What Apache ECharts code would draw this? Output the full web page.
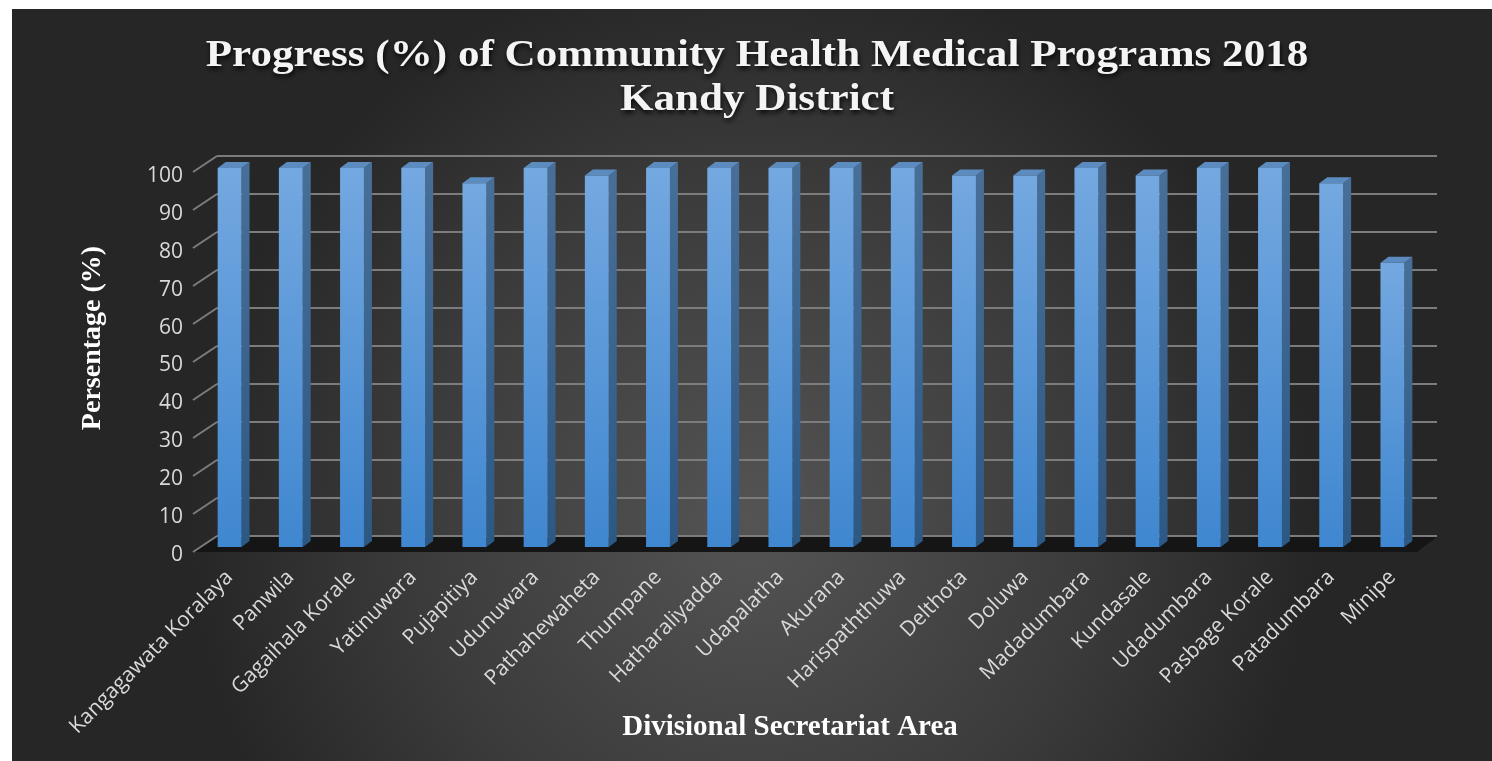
<!DOCTYPE html>
<html><head><meta charset="utf-8">
<script src="https://cdn.jsdelivr.net/npm/echarts@6/dist/echarts.min.js"></script>
<style>html,body{margin:0;padding:0;background:#fff;width:1492px;height:761px;overflow:hidden}#c{position:absolute;left:12px;top:9px;width:1480px;height:752px;}</style>
</head><body><div id="c"></div>
<script>
const categories = ['Kangagawata Koralaya','Panwila','Gagaihala Korale','Yatinuwara','Pujapitiya','Udunuwara','Pathahewaheta','Thumpane','Hatharaliyadda','Udapalatha','Akurana','Harispaththuwa','Delthota','Doluwa','Madadumbara','Kundasale','Udadumbara','Pasbage Korale','Patadumbara','Minipe'];
const values = [100,100,100,100,96,100,98,100,100,100,100,100,98,98,100,98,100,100,96,75];
const yTicks = [0,10,20,30,40,50,60,70,80,90,100];
const titleLines = ['Progress (%) of Community Health Medical Programs 2018','Kandy District'];
const yName = 'Persentage (%)';
const xName = 'Divisional Secretariat Area';

const chart = echarts.init(document.getElementById('c'));
const serif = '"Liberation Serif","Times New Roman",serif';
const sans = '"Open Sans","Noto Sans",sans-serif';
const gridColor = '#7c7c7c';

const option = {
  animation: false,
  backgroundColor: {
    type: 'radial', x: 0.5, y: 0.68, r: 0.75,
    colorStops: [{offset: 0, color: '#545454'}, {offset: 0.6, color: '#3b3b3b'}, {offset: 1, color: '#262626'}]
  },
  grid: [
    {left: 205, top: 147, width: 1220, height: 380},
    {left: 187, top: 159, width: 1224, height: 379},
    {left: 181, top: 167, width: 1222, height: 379}
  ],
  xAxis: [
    {gridIndex: 0, type: 'category', data: categories, show: false},
    {gridIndex: 1, type: 'category', data: categories,
     axisLine: {show: false}, axisTick: {show: false},
     axisLabel: {rotate: 45, interval: 0, fontSize: 21, color: '#d9d9d9', fontFamily: sans, margin: 27}},
    {gridIndex: 2, type: 'category', data: categories, show: false}
  ],
  yAxis: [
    {gridIndex: 0, type: 'value', min: 0, max: 100, interval: 10,
     axisLine: {show: false}, axisTick: {show: false}, axisLabel: {show: false},
     splitLine: {lineStyle: {color: gridColor, width: 2}}},
    {gridIndex: 1, type: 'value', min: 0, max: 100, interval: 10, show: false, splitLine: {show: false}},
    {gridIndex: 2, type: 'value', min: 0, max: 100, interval: 10,
     axisLine: {show: false}, axisTick: {show: false}, splitLine: {show: false},
     axisLabel: {fontSize: 21, color: '#d9d9d9', fontFamily: sans, margin: 10}}
  ],
  graphic: [
    {type: 'text', x: 745, y: 47, scaleX: 1.165, z: 10, style: {text: titleLines[0], align: 'center', verticalAlign: 'middle',
      font: 'bold 37px ' + serif, fill: '#f4f4f4', textShadowColor: 'rgba(0,0,0,0.85)', textShadowBlur: 5, textShadowOffsetX: 1, textShadowOffsetY: 3}},
    {type: 'text', x: 745, y: 91, scaleX: 1.165, z: 10, style: {text: titleLines[1], align: 'center', verticalAlign: 'middle',
      font: 'bold 37px ' + serif, fill: '#f4f4f4', textShadowColor: 'rgba(0,0,0,0.85)', textShadowBlur: 5, textShadowOffsetX: 1, textShadowOffsetY: 3}},
    {type: 'text', x: 81, y: 329, rotation: Math.PI / 2, z: 10, style: {text: yName, align: 'center', verticalAlign: 'middle',
      font: 'bold 28px ' + serif, fill: '#ffffff'}},
    {type: 'text', x: 778, y: 719, z: 10, style: {text: xName, align: 'center', verticalAlign: 'middle',
      font: 'bold 29px ' + serif, fill: '#ffffff'}}
  ],
  series: [
    {
      type: 'custom', xAxisIndex: 0, yAxisIndex: 0, z: 1, silent: true,
      data: [[0, 0]],
      renderItem: function (params, api) {
        const cs = params.coordSys;
        const yb = api.coord([0, 0])[1];
        return {type: 'polygon', shape: {points: [
          [cs.x, yb + 1], [cs.x + cs.width, yb + 1], [cs.x + cs.width - 20, yb + 16], [cs.x - 24, yb + 16]
        ]}, style: {fill: '#151515'}};
      }
    },
    {
      type: 'custom', xAxisIndex: 0, yAxisIndex: 0, z: 1, silent: true,
      data: yTicks.map(v => [0, v]),
      renderItem: function (params, api) {
        const cs = params.coordSys;
        const y = api.coord([0, api.value(1)])[1];
        return {type: 'line', shape: {x1: cs.x, y1: y, x2: cs.x - 24, y2: y + 16},
          style: {stroke: gridColor, lineWidth: 2}};
      }
    },
    {
      type: 'custom', xAxisIndex: 1, yAxisIndex: 1, z: 3, silent: true,
      data: values.map((v, i) => [i, v]),
      renderItem: function (params, api) {
        const i = api.value(0), v = api.value(1);
        const top = api.coord([i, v]);
        const base = api.coord([i, 0]);
        const w = api.size([1, 0])[0] * 0.39;
        const x0 = top[0] - w / 2, x1 = top[0] + w / 2;
        const dx = 8, dy = 6;
        return {type: 'group', children: [
          {type: 'polygon', shape: {points: [[x1, top[1]], [x1 + dx, top[1] - dy], [x1 + dx, base[1] - dy], [x1, base[1]]]},
           style: {fill: new echarts.graphic.LinearGradient(0, 0, 0, 1, [{offset: 0, color: '#486f98'}, {offset: 1, color: '#2c5884'}])}},
          {type: 'polygon', shape: {points: [[x0, top[1]], [x0 + dx, top[1] - dy], [x1 + dx, top[1] - dy], [x1, top[1]]]},
           style: {fill: '#5c8bbf'}},
          {type: 'rect', shape: {x: x0, y: top[1], width: w, height: base[1] - top[1]},
           style: {fill: new echarts.graphic.LinearGradient(0, 0, 0, 1, [{offset: 0, color: '#74a8e0'}, {offset: 1, color: '#3f87d0'}])}}
        ]};
      }
    }
  ]
};
chart.setOption(option);
</script>
</body></html>
